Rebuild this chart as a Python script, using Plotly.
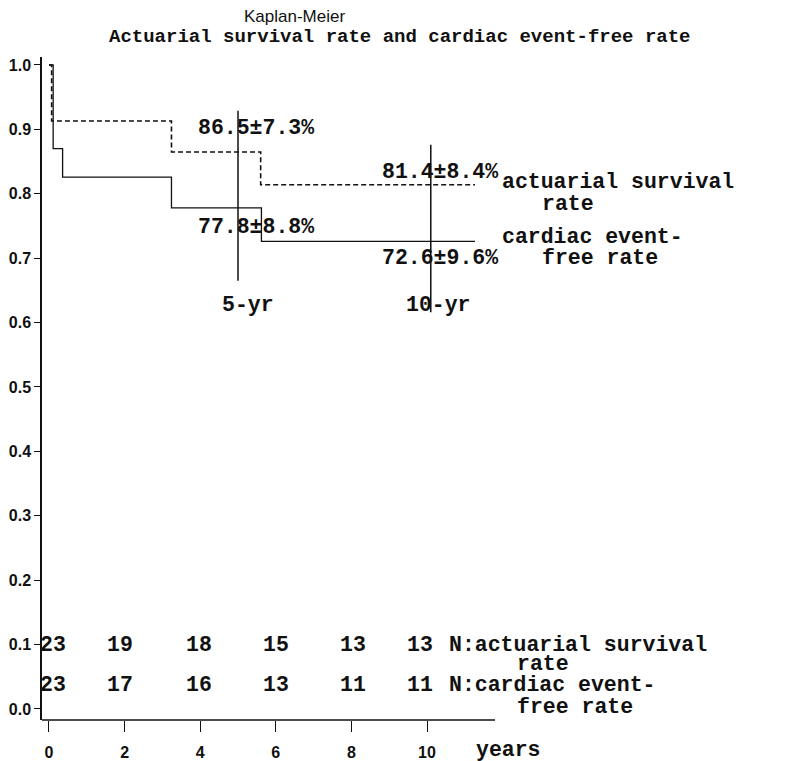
import plotly.graph_objects as go

# ---- data ----
surv_years = [0, 0.07, 3.24, 5.6, 11.27]
surv_rate = [1.0, 0.913, 0.865, 0.814, 0.814]
event_years = [0, 0.11, 0.36, 3.24, 5.62, 11.27]
event_rate = [1.0, 0.870, 0.826, 0.778, 0.726, 0.726]

marker_years = [5.0, 10.1]
marker_labels = ["5-yr", "10-yr"]
surv_at_marker = ["86.5±7.3%", "81.4±8.4%"]
event_at_marker = ["77.8±8.8%", "72.6±9.6%"]

risk_years = [0, 2, 4, 6, 8, 10]
risk_surv = [23, 19, 18, 15, 13, 13]
risk_event = [23, 17, 16, 13, 11, 11]

x_ticks = [0, 2, 4, 6, 8, 10]
y_ticks = [0.0, 0.1, 0.2, 0.3, 0.4, 0.5, 0.6, 0.7, 0.8, 0.9, 1.0]
y_ticktext = ["0.0", "0.1", "0.2", "0.3", "0.4", "0.5", "0.6", "0.7", "0.8", "0.9", "1.0"]

# ---- style ----
MONO = "Liberation Mono, Courier New, monospace"
SANS = "Liberation Sans Narrow, Liberation Sans, Arial, sans-serif"
INK = "#111111"
FS = 21.5
WT = "bold"

fig = go.Figure()
fig.add_trace(go.Scatter(x=surv_years, y=surv_rate, mode="lines", line_shape="hv",
                         line=dict(color=INK, width=1.6, dash="5px,3px"),
                         name="actuarial survival rate", showlegend=False))
fig.add_trace(go.Scatter(x=event_years, y=event_rate, mode="lines", line_shape="hv",
                         line=dict(color=INK, width=1.3),
                         name="cardiac event-free rate", showlegend=False))

# vertical marker lines at 5 and 10 years
marker_spans = [(0.665, 0.929), (0.616, 0.876)]
for xv, (y0, y1) in zip(marker_years, marker_spans):
    fig.add_trace(go.Scatter(x=[xv, xv], y=[y0, y1], mode="lines",
                             line=dict(color=INK, width=1.5), showlegend=False,
                             hoverinfo="skip"))

ann = []
def txt(x, y, s, xanchor="center", size=FS, font=MONO, xref="x", yref="y"):
    ann.append(dict(x=x, y=y, text=s, showarrow=False, xanchor=xanchor, yanchor="middle",
                    xref=xref, yref=yref,
                    font=dict(family=font, size=size, color=INK, weight=WT)))

# rate labels
surv_lab_pos = [(5.48, 0.902), (10.35, 0.834)]
event_lab_pos = [(5.48, 0.748), (10.35, 0.700)]
for (x, y), s in zip(surv_lab_pos, surv_at_marker):
    txt(x, y, s)
for (x, y), s in zip(event_lab_pos, event_at_marker):
    txt(x, y, s)
marker_lab_x = [5.26, 10.31]
for x, s in zip(marker_lab_x, marker_labels):
    txt(x, 0.627, s)

# curve legend labels
txt(11.94, 0.8185, "actuarial survival", xanchor="left")
txt(12.99, 0.7845, "rate", xanchor="left")
txt(11.94, 0.7335, "cardiac event-", xanchor="left")
txt(12.99, 0.700, "free rate", xanchor="left")

# numbers at risk
risk_x = [0.11, 1.88, 3.98, 6.0, 8.05, 9.82]
for x, n in zip(risk_x, risk_surv):
    txt(x, 0.1, str(n))
for x, n in zip(risk_x, risk_event):
    txt(x, 0.037, str(n))
txt(10.53, 0.1, "N:actuarial survival", xanchor="left")
txt(12.33, 0.0705, "rate", xanchor="left")
txt(10.53, 0.037, "N:cardiac event-", xanchor="left")
txt(12.33, 0.0025, "free rate", xanchor="left")

# axis title "years" (below plot area -> paper y)
txt(11.25, -0.0445, "years", xanchor="left", yref="paper")

# titles (paper coords)
ann.append(dict(xref="paper", yref="paper", x=(294 - 42) / (792 - 42), y=1 + (57 - 16) / 663,
                text="Kaplan-Meier", showarrow=False, xanchor="center", yanchor="middle",
                font=dict(family=SANS, size=17, color=INK)))
ann.append(dict(xref="paper", yref="paper", x=(400 - 42) / (792 - 42), y=1 + (57 - 37) / 663,
                text="Actuarial survival rate and cardiac event-free rate", showarrow=False,
                xanchor="center", yanchor="middle",
                font=dict(family=MONO, size=19, color=INK, weight=WT)))

TICKFONT = dict(family="Liberation Sans, Arial, sans-serif", size=16, color=INK, weight="bold")

# page body has an 8px default margin, so the figure is 8px smaller and offset
fig.update_layout(
    width=784, height=753,
    margin=dict(l=34, r=0, t=49, b=41),
    paper_bgcolor="white", plot_bgcolor="white",
    showlegend=False,
    annotations=ann,
    shapes=[dict(type="line", xref="x", yref="paper", x0=-0.185, x1=11.8, y0=0, y1=0,
                 line=dict(color=INK, width=1.5))],
    xaxis=dict(range=[-0.185, 19.656], showgrid=False, zeroline=False, showline=False,
               tickmode="array", tickvals=x_ticks, ticktext=[str(v) for v in x_ticks],
               ticks="outside", ticklen=11, tickwidth=1.3, tickcolor=INK,
               ticklabelstandoff=7, tickfont=TICKFONT),
    yaxis=dict(range=[-0.0171, 1.0124], showgrid=False, zeroline=False, showline=True,
               linecolor=INK, linewidth=1.5,
               tickmode="array", tickvals=y_ticks, ticktext=y_ticktext,
               ticks="outside", ticklen=6, tickwidth=1.3, tickcolor=INK,
               tickfont=TICKFONT),
)

fig.write_html("out.html")
